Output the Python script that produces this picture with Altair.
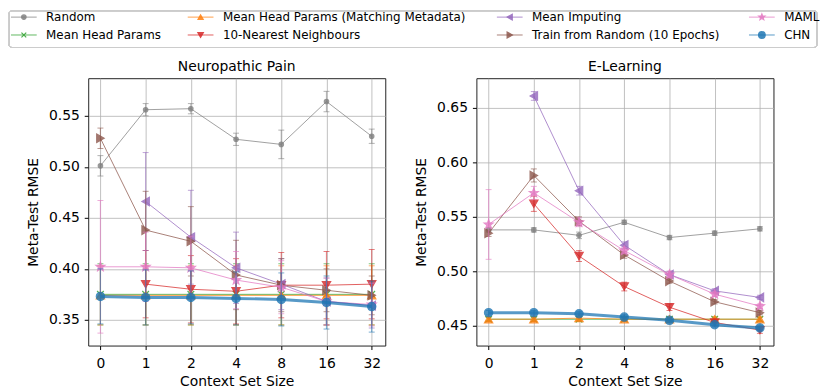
import altair as alt
import pandas as pd
import numpy as np

# ---------------- data ----------------
context_sizes = ["0", "1", "2", "4", "8", "16", "32"]
series_names = [
    "Random",
    "Mean Head Params",
    "Mean Head Params (Matching Metadata)",
    "10-Nearest Neighbours",
    "Mean Imputing",
    "Train from Random (10 Epochs)",
    "MAML",
    "CHN",
]

# Neuropathic Pain: means and error half-widths
np_random = [0.501, 0.556, 0.557, 0.527, 0.522, 0.564, 0.530]
np_random_err = [0.010, 0.006, 0.005, 0.006, 0.014, 0.010, 0.007]
np_mean_head = [0.375, 0.375, 0.375, 0.375, 0.375, 0.375, 0.375]
np_mean_head_err = [0.030, 0.030, 0.030, 0.030, 0.030, 0.030, 0.030]
np_matching = [0.374, 0.374, 0.374, 0.374, 0.374, 0.374, 0.374]
np_matching_err = [0.029, 0.029, 0.029, 0.029, 0.029, 0.029, 0.029]
np_knn = [None, 0.385, 0.380, 0.378, 0.384, 0.384, 0.385]
np_knn_err = [None, 0.033, 0.033, 0.032, 0.032, 0.033, 0.034]
np_mean_imp = [None, 0.466, 0.431, 0.401, 0.385, 0.368, 0.364]
np_mean_imp_err = [None, 0.048, 0.046, 0.035, 0.025, 0.023, 0.022]
np_train = [0.528, 0.438, 0.427, 0.394, 0.384, 0.379, 0.374]
np_train_err = [0.010, 0.038, 0.034, 0.034, 0.026, 0.021, 0.019]
np_maml = [0.402, 0.402, 0.401, 0.389, 0.382, 0.368, 0.365]
np_maml_err = [0.065, 0.034, 0.031, 0.028, 0.026, 0.023, 0.021]
np_chn = [0.373, 0.372, 0.372, 0.371, 0.370, 0.367, 0.363]
np_chn_err = [0.027, 0.027, 0.026, 0.026, 0.026, 0.026, 0.025]

# E-Learning
el_random = [0.538, 0.538, 0.533, 0.545, 0.531, 0.535, 0.539]
el_random_err = [0.002, 0.002, 0.003, 0.002, 0.002, 0.002, 0.002]
el_mean_head = [0.456, 0.456, 0.456, 0.456, 0.456, 0.456, 0.456]
el_mean_head_err = [0.002, 0.002, 0.002, 0.002, 0.002, 0.002, 0.002]
el_matching = [0.456, 0.456, 0.457, 0.456, 0.456, 0.456, 0.456]
el_matching_err = [0.002, 0.002, 0.002, 0.002, 0.002, 0.002, 0.002]
el_knn = [None, 0.562, 0.514, 0.486, 0.467, 0.453, 0.446]
el_knn_err = [None, 0.007, 0.005, 0.004, 0.003, 0.003, 0.003]
el_mean_imp = [None, 0.661, 0.574, 0.524, 0.497, 0.482, 0.476]
el_mean_imp_err = [None, 0.004, 0.004, 0.003, 0.003, 0.002, 0.002]
el_train = [0.535, 0.588, 0.546, 0.515, 0.491, 0.472, 0.462]
el_train_err = [0.003, 0.006, 0.004, 0.003, 0.002, 0.002, 0.002]
el_maml = [0.543, 0.572, 0.545, 0.519, 0.497, 0.479, 0.468]
el_maml_err = [0.032, 0.006, 0.004, 0.003, 0.003, 0.002, 0.002]
el_chn = [0.462, 0.462, 0.461, 0.458, 0.455, 0.451, 0.448]
el_chn_err = [0.002, 0.002, 0.002, 0.002, 0.002, 0.002, 0.002]

np_values = [np_random, np_mean_head, np_matching, np_knn, np_mean_imp, np_train, np_maml, np_chn]
np_errors = [np_random_err, np_mean_head_err, np_matching_err, np_knn_err, np_mean_imp_err,
             np_train_err, np_maml_err, np_chn_err]
el_values = [el_random, el_mean_head, el_matching, el_knn, el_mean_imp, el_train, el_maml, el_chn]
el_errors = [el_random_err, el_mean_head_err, el_matching_err, el_knn_err, el_mean_imp_err,
             el_train_err, el_maml_err, el_chn_err]


def long_table(values, errors):
    rows = []
    for name, vals, errs in zip(series_names, values, errors):
        for i, (v, e) in enumerate(zip(vals, errs)):
            if v is None:
                continue
            rows.append({"series": name, "idx": i, "value": v, "lo": v - e, "hi": v + e})
    return pd.DataFrame(rows)


np_df = long_table(np_values, np_errors)
el_df = long_table(el_values, el_errors)

# ---------------- styles ----------------
def star_path(n=5, inner=0.42):
    pts = []
    for k in range(2 * n):
        r = 1.0 if k % 2 == 0 else inner
        a = -np.pi / 2 + k * np.pi / n
        pts.append(f"{r*np.cos(a):.3f},{r*np.sin(a):.3f}")
    return "M" + "L".join(pts) + "Z"

X_MARK = "M-1,-1L1,1M-1,1L1,-1"
STAR = star_path()

colors = ["#7f7f7f", "#2ca02c", "#ff7f0e", "#d62728", "#9467bd", "#8c564b", "#e377c2", "#1f77b4"]
shapes = ["circle", X_MARK, "triangle-up", "triangle-down", "triangle-left", "triangle-right", STAR, "circle"]
sizes = [20, 45, 70, 70, 75, 75, 90, 70]
widths = [1, 1, 1, 1, 1, 1, 1, 3]

FONT = "DejaVu Sans"


def panel(df, title, ydomain, yticks):
    xscale = alt.Scale(domain=[-0.27, 6.3], nice=False, zero=False)
    xaxis = alt.Axis(values=list(range(7)),
                     labelExpr="[" + ",".join(f"'{c}'" for c in context_sizes) + "][datum.value]",
                     title="Context Set Size")
    yscale = alt.Scale(domain=ydomain, nice=False, zero=False)
    yaxis = alt.Axis(values=yticks, format=".2f", title="Meta-Test RMSE",
                     minExtent=80, titleX=-48)

    def X():
        return alt.X("idx:Q", scale=xscale, axis=xaxis)

    def Y(field):
        return alt.Y(field, scale=yscale, axis=yaxis)

    layers = []
    for k, name in enumerate(series_names):
        c = colors[k]
        base = alt.Chart(df).transform_filter(alt.datum.series == name)
        layers.append(base.mark_rule(color=c, opacity=0.55, strokeWidth=1.2)
                      .encode(x=X(), y=Y("lo:Q"), y2="hi:Q"))
        layers.append(base.mark_tick(orient="horizontal", size=6, thickness=1, color=c, opacity=0.6)
                      .encode(x=X(), y=Y("lo:Q")))
        layers.append(base.mark_tick(orient="horizontal", size=6, thickness=1, color=c, opacity=0.6)
                      .encode(x=X(), y=Y("hi:Q")))
        layers.append(base.mark_line(color=c, strokeWidth=widths[k], opacity=0.75)
                      .encode(x=X(), y=Y("value:Q")))
        layers.append(base.mark_point(filled=True, shape=shapes[k], size=sizes[k], fill=c, stroke=c,
                                      strokeWidth=1.2, opacity=0.8)
                      .encode(x=X(), y=Y("value:Q")))
    return alt.layer(*layers).properties(
        width=300, height=270,
        title=alt.TitleParams(text=title, fontSize=14, fontWeight="normal", font=FONT,
                              color="black", offset=4),
        view=alt.ViewBackground(stroke="#222222", strokeWidth=1),
    )


left = panel(np_df, "Neuropathic Pain", [0.3248, 0.5869], [0.35, 0.40, 0.45, 0.50, 0.55])
right = panel(el_df, "E-Learning", [0.4318, 0.6773], [0.45, 0.50, 0.55, 0.60, 0.65])

# ---------------- legend (matplotlib-like, 4 columns x 2 rows) ----------------
# The legend view shares its left edge with the left panel's plot area, so the
# legend box extends 80px to the left of it (over the y-axis area).
leg_df = pd.DataFrame({"series": series_names, "i": list(range(len(series_names)))})
cscale = alt.Scale(domain=series_names, range=colors)
leg_base = alt.Chart(leg_df).transform_calculate(
    px="[-65, 113.5, 425.7, 680.3][floor(datum.i / 2)]",
    row="datum.i % 2",
).transform_calculate(px1="datum.px - 13", px2="datum.px + 13")
ly = alt.Y("row:Q", scale=alt.Scale(domain=[-0.35, 1.7], reverse=True), axis=None)

leg_frame = alt.Chart(leg_df).mark_rect(
    fillOpacity=0, stroke="#cccccc", strokeWidth=1, cornerRadius=3
).encode(x=alt.value(-80), x2=alt.value(736), y=alt.value(0), y2=alt.value(37))

leg_lines = leg_base.mark_rule(opacity=0.75).encode(
    x=alt.X("px1:Q", scale=None), x2="px2:Q", y=ly,
    color=alt.Color("series:N", scale=cscale, legend=None),
    strokeWidth=alt.StrokeWidth("series:N", scale=alt.Scale(domain=series_names, range=widths), legend=None),
)
leg_pts = leg_base.mark_point(filled=True, opacity=0.85, strokeWidth=1.2).encode(
    x=alt.X("px:Q", scale=None), y=ly,
    color=alt.Color("series:N", scale=cscale, legend=None),
    stroke=alt.Stroke("series:N", scale=cscale, legend=None),
    shape=alt.Shape("series:N", scale=alt.Scale(domain=series_names, range=shapes), legend=None),
    size=alt.Size("series:N", scale=alt.Scale(domain=series_names, range=sizes), legend=None),
)
leg_text = leg_base.mark_text(align="left", baseline="middle", dx=22.5, fontSize=12,
                              font=FONT, color="black").encode(
    x=alt.X("px:Q", scale=None), y=ly, text="series:N")

legend = alt.layer(leg_frame, leg_lines, leg_pts, leg_text).properties(
    width=736, height=37,
    view=alt.ViewBackground(stroke=None),
)

chart = alt.vconcat(
    legend,
    alt.hconcat(left, right, spacing=10),
    spacing=11,
).properties(padding=0, background="white").configure_axis(
    grid=True, gridColor="#b0b0b0", gridWidth=0.8, domain=False,
    tickColor="black", tickSize=4, labelPadding=5,
    labelFont=FONT, labelFontSize=14, labelColor="black",
    titleFont=FONT, titleFontSize=14, titleColor="black", titleFontWeight="normal",
).configure_axisX(labelPadding=7, titlePadding=4).configure_view(stroke="#222222")

chart.save("out.html", embed_options={"renderer": "svg", "actions": False})
